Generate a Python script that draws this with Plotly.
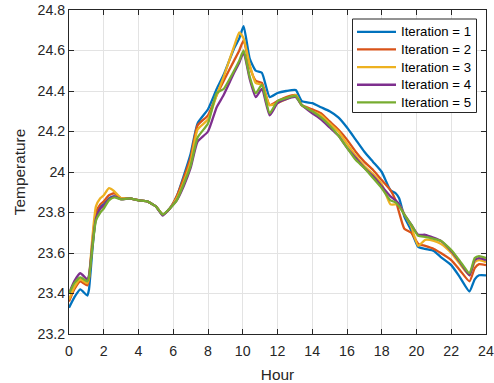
import plotly.graph_objects as go

# Hour of day at which each temperature sample was taken
hours = [0, 0.3, 0.65, 1.05, 1.15, 1.35, 1.55, 1.8, 2.0, 2.3, 2.6, 3.0, 3.5, 4.0, 4.5,
         5.0, 5.4, 5.8, 6.2, 6.6, 7.0, 7.4, 8.0, 8.5, 8.9, 9.5, 9.8, 10.05, 10.4, 10.75,
         11.1, 11.55, 12.0, 12.5, 13.05, 13.4, 14.0, 14.5, 15.0, 15.5, 16.0, 16.5, 17.0,
         17.5, 18.0, 18.5, 18.8, 19.0, 19.3, 19.7, 20.1, 20.5, 21.0, 21.4, 22.0, 22.5,
         23.05, 23.35, 23.6, 24.0]

iter1 = [23.33, 23.38, 23.42, 23.39, 23.42, 23.62, 23.78, 23.83, 23.84, 23.87, 23.88, 23.87,
         23.87, 23.86, 23.855, 23.83, 23.79, 23.82, 23.88, 23.98, 24.09, 24.24, 24.31, 24.41,
         24.48, 24.61, 24.66, 24.72, 24.56, 24.50, 24.49, 24.37, 24.39, 24.40, 24.405, 24.35,
         24.34, 24.32, 24.30, 24.27, 24.22, 24.16, 24.10, 24.05, 24.00, 23.91, 23.895, 23.87,
         23.78, 23.71, 23.63, 23.62, 23.61, 23.58, 23.54, 23.48, 23.41, 23.47, 23.49, 23.49]

iter2 = [23.36, 23.42, 23.46, 23.44, 23.47, 23.66, 23.80, 23.84, 23.855, 23.885, 23.895, 23.87,
         23.87, 23.86, 23.855, 23.83, 23.79, 23.82, 23.88, 23.97, 24.07, 24.23, 24.28, 24.38,
         24.45, 24.55, 24.60, 24.65, 24.52, 24.45, 24.44, 24.33, 24.35, 24.37, 24.38, 24.33,
         24.31, 24.29, 24.25, 24.21, 24.16, 24.10, 24.05, 24.01, 23.96, 23.91, 23.86, 23.80,
         23.72, 23.70, 23.645, 23.635, 23.62, 23.60, 23.565, 23.515, 23.46, 23.525, 23.545, 23.54]

iter3 = [23.37, 23.43, 23.47, 23.45, 23.48, 23.68, 23.83, 23.87, 23.885, 23.92, 23.905, 23.87,
         23.87, 23.86, 23.855, 23.83, 23.79, 23.82, 23.87, 23.95, 24.05, 24.21, 24.26, 24.38,
         24.47, 24.62, 24.69, 24.66, 24.53, 24.44, 24.43, 24.33, 24.34, 24.36, 24.38, 24.33,
         24.30, 24.28, 24.24, 24.20, 24.14, 24.08, 24.03, 23.99, 23.94, 23.84, 23.84, 23.84,
         23.79, 23.73, 23.635, 23.665, 23.66, 23.645, 23.60, 23.545, 23.49, 23.555, 23.565, 23.555]

iter4 = [23.40, 23.46, 23.50, 23.47, 23.49, 23.64, 23.77, 23.82, 23.835, 23.865, 23.88, 23.865,
         23.87, 23.86, 23.855, 23.83, 23.785, 23.82, 23.86, 23.93, 24.02, 24.15, 24.20, 24.32,
         24.38, 24.49, 24.54, 24.59, 24.46, 24.37, 24.41, 24.28, 24.34, 24.36, 24.37, 24.33,
         24.29, 24.26, 24.22, 24.18, 24.12, 24.07, 24.02, 23.98, 23.93, 23.88, 23.86, 23.84,
         23.79, 23.74, 23.69, 23.69, 23.675, 23.66, 23.61, 23.555, 23.49, 23.565, 23.575, 23.565]

iter5 = [23.40, 23.45, 23.48, 23.46, 23.48, 23.63, 23.76, 23.80, 23.82, 23.86, 23.875, 23.865,
         23.87, 23.86, 23.855, 23.83, 23.79, 23.82, 23.86, 23.94, 24.03, 24.17, 24.24, 24.39,
         24.41, 24.50, 24.55, 24.60, 24.47, 24.39, 24.43, 24.29, 24.35, 24.365, 24.375, 24.33,
         24.30, 24.27, 24.23, 24.18, 24.12, 24.06, 24.02, 23.97, 23.92, 23.86, 23.85, 23.83,
         23.79, 23.74, 23.685, 23.68, 23.67, 23.66, 23.615, 23.56, 23.50, 23.575, 23.585, 23.575]

series = [iter1, iter2, iter3, iter4, iter5]
names = ["Iteration = 1", "Iteration = 2", "Iteration = 3", "Iteration = 4", "Iteration = 5"]
colors = ["#0072BD", "#D95319", "#EDB120", "#7E2F8E", "#77AC30"]

x_ticks = list(range(0, 25, 2))
y_ticks = [23.2, 23.4, 23.6, 23.8, 24.0, 24.2, 24.4, 24.6, 24.8]

FONT = "Liberation Sans, Arial, sans-serif"
INK = "#262626"

# Figure and plot-area geometry in pixels
W, H = 494, 383
ML, MR, MT, MB = 69, 8, 10, 49
PW, PH = W - ML - MR, H - MT - MB


def px_x(px):
    """Horizontal pixel position -> paper fraction."""
    return (px - ML) / PW


def px_y(py):
    """Vertical pixel position (from top) -> paper fraction."""
    return 1 - (py - MT) / PH


fig = go.Figure()
for vals, name, color in zip(series, names, colors):
    fig.add_trace(go.Scatter(
        x=hours, y=vals, name=name, mode="lines",
        line=dict(color=color, width=2.3, shape="spline", smoothing=0.5),
        showlegend=False,
    ))

axis_common = dict(
    showline=True, linecolor=INK, linewidth=1, mirror="ticks",
    ticks="inside", ticklen=5, tickcolor=INK,
    showgrid=True, gridcolor="#e3e3e3", gridwidth=1, zeroline=False,
    automargin=False,
    tickfont=dict(family=FONT, size=14.2, color=INK),
)

fig.update_xaxes(
    range=[0, 24], tickvals=x_ticks, ticktext=[str(v) for v in x_ticks],
    ticklabelstandoff=4,
    title=dict(text="Hour", standoff=12, font=dict(family=FONT, size=15.4, color=INK)),
    **axis_common,
)
fig.update_yaxes(
    range=[23.2, 24.8], tickvals=y_ticks, ticktext=[f"{v:g}" for v in y_ticks],
    title=dict(text="Temperature", standoff=8, font=dict(family=FONT, size=15.4, color=INK)),
    **axis_common,
)

# Boxed legend in the upper-right corner of the axes
box_l, box_r, box_t, box_b = 352.5, 476.5, 19, 112.5
row0, row_step = 31.8, 17.65
shapes = [dict(type="rect", xref="paper", yref="paper",
               x0=px_x(box_l), x1=px_x(box_r), y0=px_y(box_b), y1=px_y(box_t),
               line=dict(color=INK, width=1), fillcolor="white", layer="above")]
annotations = []
for i, (name, color) in enumerate(zip(names, colors)):
    ry = row0 + i * row_step
    shapes.append(dict(type="line", xref="paper", yref="paper",
                       x0=px_x(357), x1=px_x(396), y0=px_y(ry), y1=px_y(ry),
                       line=dict(color=color, width=2.3), layer="above"))
    annotations.append(dict(text=name, xref="paper", yref="paper",
                            x=px_x(398.5), y=px_y(ry), xanchor="left", yanchor="middle",
                            showarrow=False,
                            font=dict(family=FONT, size=13.2, color="#000000")))

fig.update_layout(
    width=W, height=H,
    margin=dict(l=ML, r=MR, t=MT, b=MB),
    paper_bgcolor="white", plot_bgcolor="white",
    showlegend=False,
    shapes=shapes,
    annotations=annotations,
)

fig.write_html("out.html")
